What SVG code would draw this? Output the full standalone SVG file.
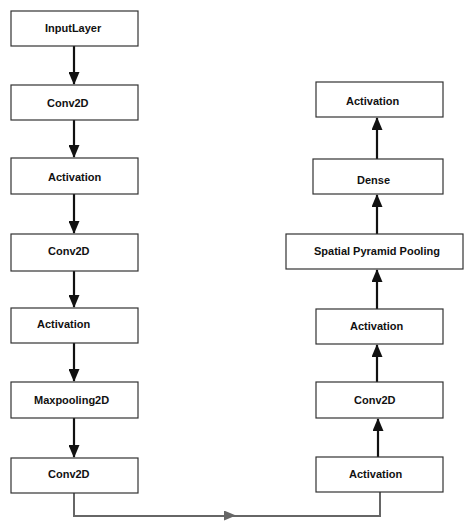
<svg xmlns="http://www.w3.org/2000/svg" width="474" height="523" viewBox="0 0 474 523">
<style>
.box{fill:#fff;stroke:#333;stroke-width:1.2}
.lbl{font-family:"Liberation Sans",Arial,sans-serif;font-weight:bold;font-size:11px;fill:#111;dominant-baseline:central}
.arr{stroke:#111;stroke-width:2.2;fill:none}
.arrg{stroke:#666;stroke-width:2;fill:none}
</style>
<defs>
<marker id="ah" markerWidth="13" markerHeight="11" refX="12" refY="5.5" orient="auto" markerUnits="userSpaceOnUse" viewBox="0 0 13 11">
<path d="M0,0 L13,5.5 L0,11 Z" fill="#111"/>
</marker>
<marker id="ahg" markerWidth="12" markerHeight="10" refX="6" refY="5" orient="auto" markerUnits="userSpaceOnUse" viewBox="0 0 12 10">
<path d="M0,0 L12,5 L0,10 Z" fill="#666"/>
</marker>
</defs>
<rect width="474" height="523" fill="#fff"/>
<g id="connectors">
<line class="arr" x1="74" y1="46" x2="74" y2="84" marker-end="url(#ah)"/>
<line class="arr" x1="74" y1="120" x2="74" y2="157" marker-end="url(#ah)"/>
<line class="arr" x1="74" y1="194" x2="74" y2="233" marker-end="url(#ah)"/>
<line class="arr" x1="74" y1="271" x2="74" y2="307" marker-end="url(#ah)"/>
<line class="arr" x1="74" y1="343" x2="74" y2="381" marker-end="url(#ah)"/>
<line class="arr" x1="74" y1="418" x2="74" y2="457" marker-end="url(#ah)"/>
<path class="arrg" d="M74,493 V516 H380 V492"/>
<line x1="200" y1="515.7" x2="230" y2="515.5" stroke="none" marker-end="url(#ahg)"/>
<line class="arr" x1="378" y1="457" x2="378" y2="419" marker-end="url(#ah)"/>
<line class="arr" x1="377" y1="382" x2="377" y2="345" marker-end="url(#ah)"/>
<line class="arr" x1="377" y1="309" x2="377" y2="270" marker-end="url(#ah)"/>
<line class="arr" x1="377" y1="234" x2="377" y2="195" marker-end="url(#ah)"/>
<line class="arr" x1="377" y1="159" x2="377" y2="118" marker-end="url(#ah)"/>
</g>
<g id="n1"><rect class="box" x="11" y="11" width="127" height="35"/><text class="lbl" x="45" y="28">InputLayer</text></g>
<g id="n2"><rect class="box" x="11" y="85" width="127" height="35"/><text class="lbl" x="47" y="103">Conv2D</text></g>
<g id="n3"><rect class="box" x="11" y="158" width="127" height="36"/><text class="lbl" x="48" y="177">Activation</text></g>
<g id="n4"><rect class="box" x="11" y="234" width="127" height="37"/><text class="lbl" x="48" y="251">Conv2D</text></g>
<g id="n5"><rect class="box" x="11" y="308" width="127" height="35"/><text class="lbl" x="37" y="324">Activation</text></g>
<g id="n6"><rect class="box" x="11" y="382" width="127" height="36"/><text class="lbl" x="34" y="400">Maxpooling2D</text></g>
<g id="n7"><rect class="box" x="11" y="458" width="127" height="35"/><text class="lbl" x="48" y="474">Conv2D</text></g>
<g id="n8"><rect class="box" x="316" y="457" width="127" height="35"/><text class="lbl" x="349" y="474">Activation</text></g>
<g id="n9"><rect class="box" x="316" y="382" width="127" height="36"/><text class="lbl" x="354" y="400">Conv2D</text></g>
<g id="n10"><rect class="box" x="316" y="309" width="127" height="35"/><text class="lbl" x="350" y="326">Activation</text></g>
<g id="n11"><rect class="box" x="286" y="234" width="177" height="35"/><text class="lbl" x="314" y="251">Spatial Pyramid Pooling</text></g>
<g id="n12"><rect class="box" x="313" y="159" width="130" height="35"/><text class="lbl" x="357" y="180">Dense</text></g>
<g id="n13"><rect class="box" x="316" y="82" width="127" height="35"/><text class="lbl" x="346" y="101">Activation</text></g>
</svg>
